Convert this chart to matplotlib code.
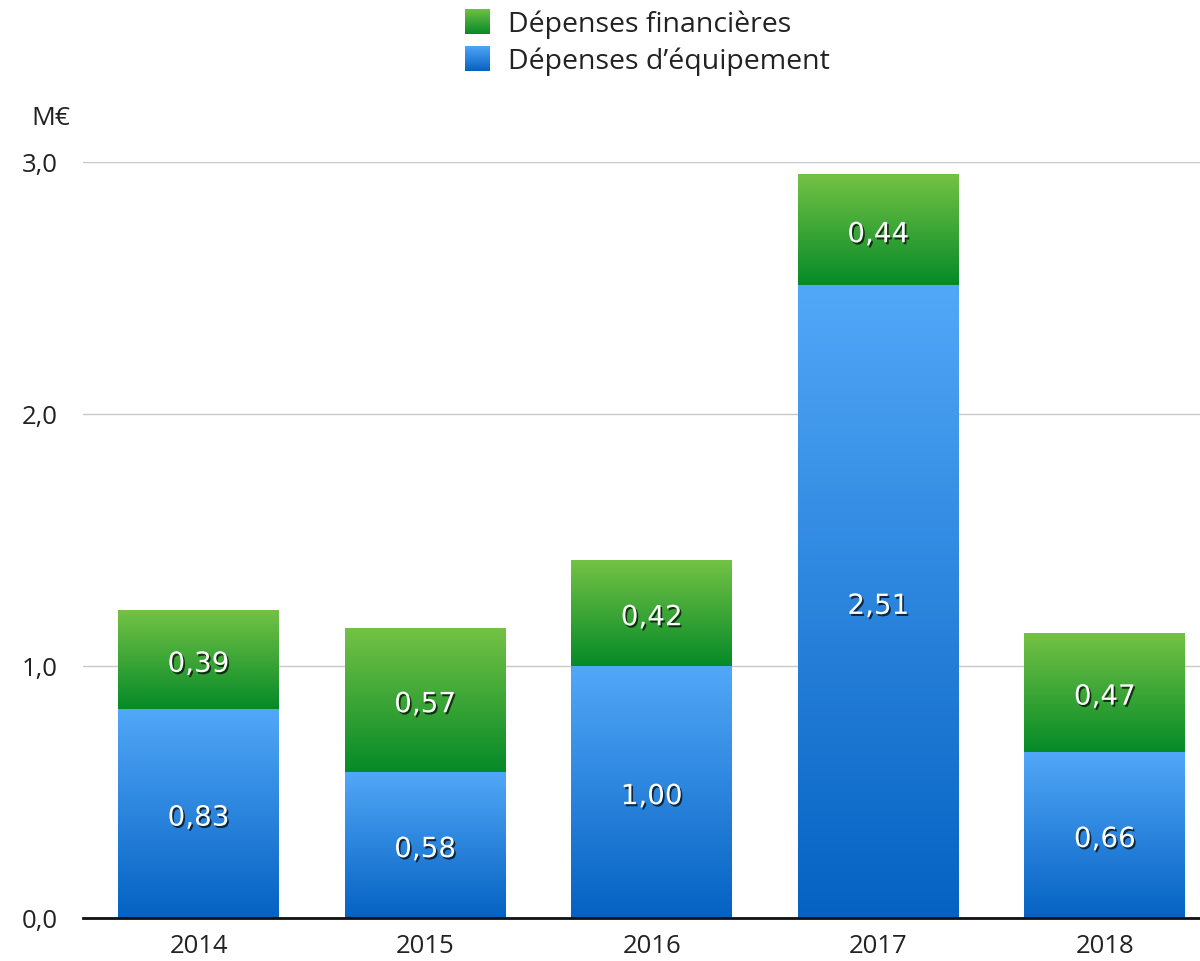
import numpy as np
import matplotlib
matplotlib.use("Agg")
import matplotlib.pyplot as plt
import matplotlib.patheffects as pe
from matplotlib.colors import LinearSegmentedColormap

years = ["2014", "2015", "2016", "2017", "2018"]
equipement = [0.83, 0.58, 1.00, 2.51, 0.66]
financieres = [0.39, 0.57, 0.42, 0.44, 0.47]
yticks = [0.0, 1.0, 2.0, 3.0]
ytick_labels = ["0,0", "1,0", "2,0", "3,0"]

blue_cmap = LinearSegmentedColormap.from_list("blue", ["#0562c2", "#52a8f8"])
green_cmap = LinearSegmentedColormap.from_list("green", ["#058a28", "#74c245"])

plt.rcParams['font.family'] = ['Open Sans', 'DejaVu Sans']

fig = plt.figure(figsize=(12, 9.62), dpi=100)
ax = fig.add_axes([0.0692, 0.0447, 0.9308, 0.7859])

x = np.arange(len(years))
grad = np.linspace(0, 1, 256).reshape(-1, 1)


def gradient_bars(bars, cmap):
    for b in bars:
        b.set_facecolor("none")
        b.set_edgecolor("none")
        x0, y0, w, h = b.get_x(), b.get_y(), b.get_width(), b.get_height()
        ax.imshow(grad, cmap=cmap, origin="lower", aspect="auto",
                  extent=(x0, x0 + w, y0, y0 + h), zorder=2)


b1 = ax.bar(x, equipement, width=0.71, zorder=2)
b2 = ax.bar(x, financieres, width=0.71, bottom=equipement, zorder=2)
gradient_bars(b1, blue_cmap)
gradient_bars(b2, green_cmap)

shadow = [pe.SimplePatchShadow(offset=(1.2, -1.5), shadow_rgbFace="black", alpha=0.7), pe.Normal()]


def bar_label(xc, yc, v):
    ax.annotate(f"{v:.2f}".replace(".", ","), (xc, yc), xytext=(0, -3),
                textcoords="offset points", ha="center", va="center",
                color="white", fontsize=20, family="DejaVu Sans",
                path_effects=shadow, zorder=4)


for i in range(len(years)):
    bar_label(x[i], equipement[i] / 2, equipement[i])
    bar_label(x[i], equipement[i] + financieres[i] / 2, financieres[i])

ax.set_xlim(-0.51, 4.42)
ax.set_ylim(0, 3.0)
ax.set_yticks(yticks)
ax.set_yticklabels(ytick_labels)
ax.set_xticks(x)
ax.set_xticklabels(years)
ax.tick_params(axis="both", length=0, labelsize=18.5, colors="#222222")
ax.tick_params(axis="y", pad=18)
ax.tick_params(axis="x", pad=11)
ax.yaxis.grid(True, color="#c8c8c8", linewidth=1)
ax.set_axisbelow(True)
for s in ["left", "right", "top"]:
    ax.spines[s].set_visible(False)
ax.spines["bottom"].set_linewidth(2)
ax.spines["bottom"].set_color("#111111")
ax.spines["bottom"].set_zorder(5)

fig.text(0.042, 0.877, "M€", ha="center", va="center", fontsize=19, color="#222222")

# legend
for ypos, cmap, label in [(0.9636, green_cmap, "Dépenses financières"),
                          (0.9252, blue_cmap, "Dépenses d\u2019équipement")]:
    lax = fig.add_axes([0.3875, ypos, 0.0208, 0.026])
    lax.imshow(grad, cmap=cmap, origin="lower", aspect="auto")
    lax.axis("off")
    fig.text(0.4233, ypos + 0.011, label, ha="left", va="center", fontsize=20.5, color="#222222")

fig.savefig("out.png", dpi=100)
